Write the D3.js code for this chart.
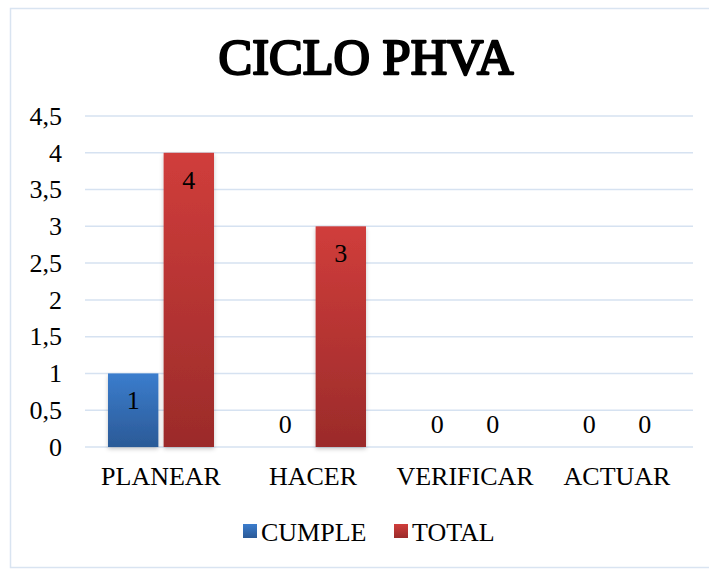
<!DOCTYPE html>
<html>
<head>
<meta charset="utf-8">
<script src="https://cdn.jsdelivr.net/npm/d3@7"></script>
</head>
<body style="margin:0">
<script>
var svgWidth = 709;
var svgHeight = 571;
var fontName = "Liberation Serif";

// data
var categories = ["PLANEAR", "HACER", "VERIFICAR", "ACTUAR"];
var seriesNames = ["CUMPLE", "TOTAL"];
var cumpleValues = [1, 0, 0, 0];
var totalValues = [4, 3, 0, 0];
var yTicks = [0, 0.5, 1, 1.5, 2, 2.5, 3, 3.5, 4, 4.5];

var margin = { top: 116, right: 16, bottom: 124, left: 85 };
var chartWidth = svgWidth - margin.left - margin.right;
var chartHeight = svgHeight - margin.top - margin.bottom;

var svg = d3.select("body").append("svg")
    .attr("width", svgWidth)
    .attr("height", svgHeight);

var defs = svg.append("defs");
function addGradient(id, top, bottom) {
    var g = defs.append("linearGradient").attr("id", id)
        .attr("x1", 0).attr("y1", 0).attr("x2", 0).attr("y2", 1);
    g.append("stop").attr("offset", "0%").attr("stop-color", top);
    g.append("stop").attr("offset", "100%").attr("stop-color", bottom);
}
addGradient("gradBlue", "#3b7dcd", "#2b5a97");
addGradient("gradRed", "#d03d3b", "#9b2b2a");

var shadow = defs.append("filter").attr("id", "shadow")
    .attr("x", "-20%").attr("y", "-5%").attr("width", "140%").attr("height", "115%");
shadow.append("feDropShadow").attr("dx", 0).attr("dy", 2).attr("stdDeviation", 2)
    .attr("flood-color", "#000").attr("flood-opacity", 0.22);

// outer frame
svg.append("rect")
    .attr("x", 10.5).attr("y", 8.5)
    .attr("width", 720).attr("height", 559)
    .attr("fill", "#fff")
    .attr("stroke", "#d9e4f1")
    .attr("stroke-width", 1.5);

// title (bold face is missing, so thicken the regular face with a stroke)
svg.append("text")
    .attr("x", 366).attr("y", 74)
    .attr("text-anchor", "middle")
    .attr("font-size", 50)
    .attr("font-family", fontName)
    .attr("stroke", "#000")
    .attr("stroke-width", 2.3)
    .attr("stroke-linejoin", "round")
    .attr("textLength", 295)
    .attr("lengthAdjust", "spacingAndGlyphs")
    .text("CICLO PHVA");

var chartGroup = svg.append("g")
    .attr("transform", `translate(${margin.left}, ${margin.top})`);

var xScale = d3.scaleBand().domain(categories).range([0, chartWidth]);
var xInner = d3.scaleBand().domain(seriesNames)
    .range([xScale.bandwidth() / 2 - 53, xScale.bandwidth() / 2 + 53])
    .paddingInner(10 / 106);
var yScale = d3.scaleLinear().domain([0, 4.5]).range([chartHeight, 0]);

// gridlines
chartGroup.append("g")
    .selectAll("line")
    .data(yTicks)
    .enter().append("line")
    .attr("x1", 0).attr("x2", chartWidth)
    .attr("y1", d => yScale(d)).attr("y2", d => yScale(d))
    .attr("stroke", "#d6e2f1")
    .attr("stroke-width", 1.5);

// y axis labels
var leftAxis = d3.axisLeft(yScale).tickValues(yTicks).tickSize(0).tickPadding(23)
    .tickFormat(d => String(d).replace(".", ","));
var yAxis = chartGroup.append("g").call(leftAxis);
yAxis.select(".domain").remove();
yAxis.selectAll("text")
    .attr("fill", "#000")
    .attr("font-size", 26)
    .attr("font-family", fontName);

// x axis labels
var bottomAxis = d3.axisBottom(xScale).tickSize(0).tickPadding(20);
var xAxis = chartGroup.append("g")
    .attr("transform", `translate(0, ${chartHeight})`)
    .call(bottomAxis);
xAxis.select(".domain").remove();
xAxis.selectAll("text")
    .attr("fill", "#000")
    .attr("font-size", 26)
    .attr("font-family", fontName);

// bars
var rows = categories.map((c, i) => ({ cat: c, values: [
    { name: "CUMPLE", value: cumpleValues[i] },
    { name: "TOTAL", value: totalValues[i] }
]}));
var fills = { CUMPLE: "url(#gradBlue)", TOTAL: "url(#gradRed)" };

var groups = chartGroup.selectAll(".cat")
    .data(rows)
    .enter().append("g")
    .attr("class", "cat")
    .attr("transform", d => `translate(${xScale(d.cat)}, 0)`);

groups.selectAll("rect")
    .data(d => d.values.filter(v => v.value > 0))
    .enter().append("rect")
    .attr("x", d => xInner(d.name))
    .attr("width", xInner.bandwidth())
    .attr("y", d => yScale(d.value))
    .attr("height", d => chartHeight - yScale(d.value))
    .attr("fill", d => fills[d.name])
    .attr("filter", "url(#shadow)");

// data labels: inside end for bars, above the axis for zeros
groups.selectAll(".lbl")
    .data(d => d.values)
    .enter().append("text")
    .attr("class", "lbl")
    .attr("x", d => xInner(d.name) + xInner.bandwidth() / 2)
    .attr("y", d => d.value > 0 ? yScale(d.value) + 36 : chartHeight - 14)
    .attr("text-anchor", "middle")
    .attr("font-size", 26)
    .attr("font-family", fontName)
    .text(d => d.value);

// legend
var legendItems = [
    { name: "CUMPLE", x: 243 },
    { name: "TOTAL", x: 394 }
];
var legend = svg.append("g");
legend.selectAll("rect")
    .data(legendItems)
    .enter().append("rect")
    .attr("x", d => d.x).attr("y", 524)
    .attr("width", 14).attr("height", 14)
    .attr("fill", d => fills[d.name]);
legend.selectAll("text")
    .data(legendItems)
    .enter().append("text")
    .attr("x", d => d.x + 18).attr("y", 541)
    .attr("font-size", 26)
    .attr("font-family", fontName)
    .text(d => d.name);
</script>
</body>
</html>
